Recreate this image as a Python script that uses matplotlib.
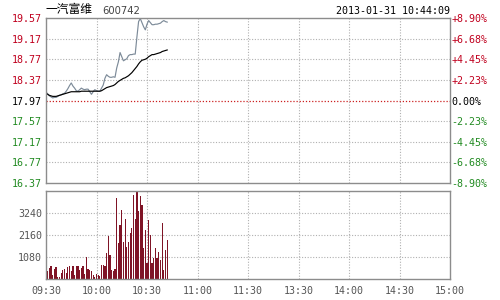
import numpy as np
import matplotlib
matplotlib.use('Agg')
import matplotlib.pyplot as plt

# intraday data, minutes after 09:30
price = [18.13, 18.10, 18.06, 18.04, 18.02, 18.03, 18.03, 18.05, 18.07, 18.08,
         18.10, 18.11, 18.15, 18.20, 18.26, 18.31, 18.25, 18.21, 18.16, 18.15,
         18.18, 18.21, 18.19, 18.18, 18.19, 18.19, 18.14, 18.09, 18.14, 18.18,
         18.16, 18.15, 18.15, 18.21, 18.27, 18.40, 18.47, 18.44, 18.42, 18.42,
         18.43, 18.42, 18.60, 18.72, 18.90, 18.82, 18.74, 18.76, 18.78, 18.84,
         18.86, 18.86, 18.87, 18.87, 19.20, 19.50, 19.56, 19.48, 19.40, 19.34,
         19.45, 19.52, 19.48, 19.44, 19.44, 19.45, 19.45, 19.46, 19.47, 19.50,
         19.52, 19.50, 19.49]
avg = [18.11, 18.09, 18.07, 18.06, 18.05, 18.05, 18.05, 18.06, 18.07, 18.08,
       18.09, 18.10, 18.11, 18.12, 18.13, 18.14, 18.14, 18.14, 18.14, 18.14,
       18.14, 18.15, 18.15, 18.15, 18.15, 18.15, 18.15, 18.15, 18.15, 18.15,
       18.15, 18.15, 18.15, 18.16, 18.18, 18.20, 18.22, 18.23, 18.24, 18.25,
       18.26, 18.28, 18.31, 18.34, 18.36, 18.38, 18.40, 18.41, 18.43, 18.45,
       18.48, 18.51, 18.55, 18.59, 18.63, 18.68, 18.72, 18.75, 18.76, 18.77,
       18.79, 18.82, 18.84, 18.86, 18.86, 18.87, 18.88, 18.89, 18.90, 18.92,
       18.93, 18.94, 18.95]
volume = [360, 410, 520, 640, 200, 470, 610, 80, 110, 310,
          440, 470, 310, 570, 640, 410, 640, 200, 640, 640,
          440, 520, 640, 250, 1060, 470, 440, 410, 200, 80,
          250, 200, 150, 690, 690, 640, 1260, 2110, 1180, 440,
          410, 470, 3960, 1780, 2650, 3390, 1830, 2930, 1590, 1830,
          2270, 2490, 4120, 2930, 4290, 3350, 4070, 3630, 1510, 2400,
          770, 2900, 2160, 770, 1010, 1510, 1010, 1340, 930, 2730,
          440, 1420, 1910]

prev_close = 17.97
price_ticks = [16.37, 16.77, 17.17, 17.57, 17.97, 18.37, 18.77, 19.17, 19.57]
pct_labels = ['-8.90%', '-6.68%', '-4.45%', '-2.23%', '0.00%',
              '+2.23%', '+4.45%', '+6.68%', '+8.90%']
vol_ticks = [1080, 2160, 3240]
time_labels = ['09:30', '10:00', '10:30', '11:00', '11:30',
               '13:30', '14:00', '14:30', '15:00']

red = '#c0001e'
green = '#228b22'
edge = '#8c8c8c'
mono = 'DejaVu Sans Mono'
fs = 7.2

fig = plt.figure(figsize=(5, 3), dpi=100)
ax = fig.add_axes([0.092, 0.39, 0.808, 0.55])
axv = fig.add_axes([0.092, 0.07, 0.808, 0.2933])

m = np.arange(len(price))

for a in (ax, axv):
    a.set_xlim(0, 240)
    a.set_xticks(range(0, 241, 30))
    for s in a.spines.values():
        s.set_color(edge)
        s.set_linewidth(1)
    a.tick_params(length=0)
    for t in range(30, 240, 30):
        a.axvline(t, color='#b0b0b0', lw=0.8, ls=(0, (1, 1.5)), zorder=0)

# price panel
ax.plot(m, price, color='#7d8b99', lw=0.85)
ax.plot(m, avg, color='black', lw=0.85)
ax.set_ylim(price_ticks[0], price_ticks[-1])
ax.set_yticks(price_ticks)
for p in price_ticks[1:-1]:
    if p == prev_close:
        ax.axhline(p, color='#cc2020', lw=0.9, ls=(0, (1, 1.5)), zorder=0)
    else:
        ax.axhline(p, color='#b0b0b0', lw=0.8, ls=(0, (1, 1.5)), zorder=0)
ax.set_xticklabels([])
ax.set_yticklabels([f'{p:.2f}' for p in price_ticks], fontfamily=mono, fontsize=fs)
for lbl, p in zip(ax.get_yticklabels(), price_ticks):
    lbl.set_color(red if p > prev_close else (green if p < prev_close else 'black'))
ax.tick_params(axis='y', pad=3)

ax2 = ax.twinx()
ax2.set_ylim(price_ticks[0], price_ticks[-1])
ax2.set_yticks(price_ticks)
ax2.set_yticklabels(pct_labels, fontfamily=mono, fontsize=fs)
for lbl, p in zip(ax2.get_yticklabels(), price_ticks):
    lbl.set_color(red if p > prev_close else (green if p < prev_close else 'black'))
ax2.tick_params(length=0, pad=1)
for s in ax2.spines.values():
    s.set_visible(False)

fig.text(0.092, 0.945, '一汽富维', family=['Noto Sans CJK SC', 'DejaVu Sans'],
         fontsize=8.5, color='black', va='bottom')
fig.text(0.204, 0.948, '600742', family='DejaVu Sans', fontsize=7.2,
         color='#444444', va='bottom')
fig.text(0.9, 0.948, '2013-01-31 10:44:09', family=mono, fontsize=fs,
         color='black', va='bottom', ha='right')

# volume panel
axv.bar(m, volume, width=0.72, color='#7f1426', align='center')
axv.set_ylim(0, 4320)
axv.set_yticks(vol_ticks)
for v in vol_ticks:
    axv.axhline(v, color='#b0b0b0', lw=0.8, ls=(0, (1, 1.5)), zorder=0)
axv.set_yticklabels([str(v) for v in vol_ticks], fontfamily=mono,
                    fontsize=fs, color='#555555')
axv.set_xticklabels(time_labels, fontfamily=mono, fontsize=fs, color='#555555')
axv.tick_params(axis='x', pad=5)
axv.tick_params(axis='y', pad=3)

fig.savefig('out.png', dpi=100, facecolor='white')
